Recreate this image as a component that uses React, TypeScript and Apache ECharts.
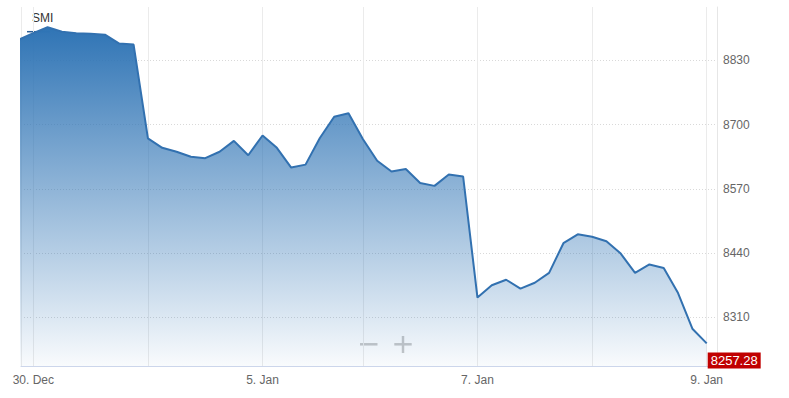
import React, { useEffect, useRef } from "react";
import * as echarts from "echarts";

const seriesName = "SMI";
const categories = [
  "29.12. 17:00",
  "30.12. 09:00", "30.12. 10:00", "30.12. 11:00", "30.12. 12:00", "30.12. 13:00", "30.12. 14:00", "30.12. 15:00", "30.12. 16:00",
  "04.01. 09:00", "04.01. 10:00", "04.01. 11:00", "04.01. 12:00", "04.01. 13:00", "04.01. 14:00", "04.01. 15:00", "04.01. 16:00",
  "05.01. 09:00", "05.01. 10:00", "05.01. 11:00", "05.01. 12:00", "05.01. 13:00", "05.01. 14:00", "05.01. 15:00",
  "06.01. 09:00", "06.01. 10:00", "06.01. 11:00", "06.01. 12:00", "06.01. 13:00", "06.01. 14:00", "06.01. 15:00", "06.01. 16:00",
  "07.01. 09:00", "07.01. 10:00", "07.01. 11:00", "07.01. 12:00", "07.01. 13:00", "07.01. 14:00", "07.01. 15:00", "07.01. 16:00",
  "08.01. 09:00", "08.01. 10:00", "08.01. 11:00", "08.01. 12:00", "08.01. 13:00", "08.01. 14:00", "08.01. 15:00", "08.01. 16:00",
  "09.01. 09:00",
];
const values = [
  8872,
  8885, 8897, 8888, 8885, 8884, 8882, 8864, 8862,
  8672, 8653, 8645, 8635, 8632, 8645, 8667, 8638,
  8678, 8653, 8613, 8619, 8673, 8716, 8723,
  8671, 8627, 8605, 8610, 8582, 8576, 8599, 8595,
  8350, 8375, 8386, 8368, 8380, 8400, 8460, 8478,
  8473, 8464, 8439, 8400, 8417, 8410, 8359, 8287,
  8257.28,
];
const xTickAt = ["30.12. 09:00", "05.01. 09:00", "07.01. 09:00", "09.01. 09:00"];
const xTickLabels = ["30. Dec", "5. Jan", "7. Jan", "9. Jan"];
const yTicks = [8310, 8440, 8570, 8700, 8830];
const lastLabel = "8257.28";

const FONT = "'Liberation Sans', Arial, sans-serif";

export default function App() {
  const ref = useRef<HTMLDivElement>(null);
  useEffect(() => {
    if (!ref.current) return;
    const chart = echarts.init(ref.current, null, { renderer: "svg" });
    const xMin = 0.1416;
    const xMax = 48.719;
    const labelIdx = xTickAt.map((c) => categories.indexOf(c));
    const dayStarts = categories
      .map((c, i) => (c.endsWith("09:00") ? i : -1))
      .filter((i) => i >= 0);
    const gridX = [xMin, ...dayStarts];
    chart.setOption({
      animation: false,
      backgroundColor: "#ffffff",
      grid: { left: 21, right: 72, top: 7, bottom: 32, containLabel: false },
      xAxis: {
        type: "value",
        min: xMin,
        max: xMax,
        axisLine: { show: true, lineStyle: { color: "#ccd6eb", width: 1 } },
        axisTick: { show: false, customValues: gridX },
        axisLabel: {
          customValues: labelIdx,
          formatter: (v: number) => {
            const k = labelIdx.indexOf(Math.round(v));
            return k >= 0 ? xTickLabels[k] : "";
          },
          color: "#666666",
          fontSize: 12,
          fontFamily: FONT,
          margin: 8,
        },
        splitLine: { show: true, lineStyle: { color: "#ebebeb", width: 1 } },
      },
      yAxis: {
        type: "value",
        position: "right",
        min: 8211.5,
        max: 8938,
        axisLine: { show: true, lineStyle: { color: "#e6e6e6", width: 1 } },
        axisTick: { show: false, customValues: yTicks },
        axisLabel: {
          customValues: yTicks,
          formatter: (v: number) => String(v),
          color: "#666666",
          fontSize: 12,
          fontFamily: FONT,
          margin: 6,
          padding: [0, 0, 4, 0],
        },
        splitLine: { show: true, lineStyle: { color: "#d9d9d9", width: 1, type: [1, 2] } },
      },
      series: [
        {
          name: seriesName,
          type: "line",
          data: values.map((v, i) => [i, v]),
          symbol: "none",
          clip: true,
          lineStyle: { color: "#3271b0", width: 2 },
          itemStyle: { color: "#3271b0" },
          areaStyle: {
            opacity: 1,
            color: new echarts.graphic.LinearGradient(0, 0, 0, 1, [
              { offset: 0, color: "rgba(47,116,181,1)" },
              { offset: 1, color: "rgba(47,116,181,0.03)" },
            ]),
          },
          endLabel: {
            show: true,
            formatter: () => lastLabel,
            distance: 1,
            offset: [0, 17],
            backgroundColor: "#c00000",
            color: "#ffffff",
            fontSize: 13,
            fontFamily: FONT,
            padding: [2, 3, 1, 3],
          },
        },
      ],
      graphic: [
        {
          type: "text",
          left: 32,
          top: 12,
          style: { text: seriesName, fill: "#333333", fontSize: 12, fontFamily: FONT },
        },
        {
          type: "line",
          shape: { x1: 27, y1: 31.7, x2: 50, y2: 31.7 },
          style: { stroke: "#2c5f96", lineWidth: 1.5 },
        },
        {
          type: "line",
          shape: { x1: 360, y1: 344.3, x2: 377.5, y2: 344.3 },
          style: { stroke: "#c8c8c8", lineWidth: 2.5 },
        },
        {
          type: "line",
          shape: { x1: 394.3, y1: 344.3, x2: 411.7, y2: 344.3 },
          style: { stroke: "#c8c8c8", lineWidth: 2.5 },
        },
        {
          type: "line",
          shape: { x1: 403, y1: 336, x2: 403, y2: 353 },
          style: { stroke: "#c8c8c8", lineWidth: 2.5 },
        },
      ],
    });
    return () => chart.dispose();
  }, []);
  return (
    <div
      ref={ref}
      style={{ position: "fixed", left: 0, top: 0, width: 789, height: 398, background: "#fff" }}
    />
  );
}
